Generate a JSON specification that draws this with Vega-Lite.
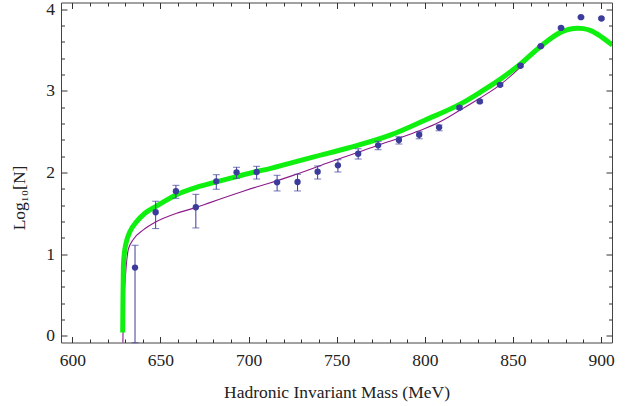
{
  "$schema": "https://vega.github.io/schema/vega-lite/v6.json",
  "width": 551,
  "height": 340,
  "autosize": {"type": "none"},
  "padding": {"left": 61, "top": 2.5, "right": 23, "bottom": 63.5},
  "background": "white",
  "config": {
    "view": {"stroke": "#444444", "strokeWidth": 1},
    "axis": {
      "domain": false,
      "grid": false,
      "tickColor": "#333333",
      "tickWidth": 1,
      "labelFont": "Liberation Serif, DejaVu Serif, Times New Roman, serif",
      "labelFontSize": 17.5,
      "labelColor": "#222222",
      "labelOverlap": false,
      "labelFlush": false,
      "titleFont": "Liberation Serif, DejaVu Serif, Times New Roman, serif",
      "titleFontSize": 17.5,
      "titleFontWeight": "normal",
      "titleColor": "#222222"
    }
  },
  "datasets": {
    "pts": [
      {"m": 635.6, "y": 0.835, "lo": -0.085, "hi": 1.109},
      {"m": 647.3, "y": 1.513, "lo": 1.313, "hi": 1.648},
      {"m": 658.8, "y": 1.770, "lo": 1.684, "hi": 1.843},
      {"m": 670.1, "y": 1.574, "lo": 1.321, "hi": 1.733},
      {"m": 681.7, "y": 1.892, "lo": 1.795, "hi": 1.973},
      {"m": 693.2, "y": 2.002, "lo": 1.929, "hi": 2.064},
      {"m": 704.6, "y": 2.006, "lo": 1.920, "hi": 2.076},
      {"m": 716.2, "y": 1.880, "lo": 1.774, "hi": 1.966},
      {"m": 727.8, "y": 1.884, "lo": 1.774, "hi": 1.978},
      {"m": 739.2, "y": 2.010, "lo": 1.920, "hi": 2.080},
      {"m": 750.7, "y": 2.088, "lo": 2.006, "hi": 2.157},
      {"m": 762.2, "y": 2.230, "lo": 2.165, "hi": 2.291},
      {"m": 773.5, "y": 2.333, "lo": 2.279, "hi": 2.382},
      {"m": 785.3, "y": 2.398, "lo": 2.349, "hi": 2.438},
      {"m": 796.8, "y": 2.462, "lo": 2.413, "hi": 2.499},
      {"m": 808.1, "y": 2.553, "lo": 2.511, "hi": 2.581},
      {"m": 819.7, "y": 2.793, "lo": 2.775, "hi": 2.811},
      {"m": 831.2, "y": 2.871, "lo": 2.855, "hi": 2.887},
      {"m": 842.7, "y": 3.074, "lo": 3.060, "hi": 3.088},
      {"m": 854.3, "y": 3.307, "lo": 3.295, "hi": 3.319},
      {"m": 865.8, "y": 3.547, "lo": 3.537, "hi": 3.557},
      {"m": 877.3, "y": 3.771, "lo": 3.761, "hi": 3.781},
      {"m": 888.6, "y": 3.902, "lo": 3.892, "hi": 3.912},
      {"m": 900.2, "y": 3.886, "lo": 3.876, "hi": 3.896}
    ],
    "green": [
      {"m": 628.6, "v": 0.04}, {"m": 628.75, "v": 0.45}, {"m": 629.0, "v": 0.85},
      {"m": 629.6, "v": 1.02}, {"m": 630.5, "v": 1.134}, {"m": 632.7, "v": 1.276},
      {"m": 636.5, "v": 1.398}, {"m": 641.2, "v": 1.501}, {"m": 647.3, "v": 1.582},
      {"m": 658.8, "v": 1.725}, {"m": 670.5, "v": 1.819}, {"m": 681.7, "v": 1.885},
      {"m": 693.2, "v": 1.950}, {"m": 704.6, "v": 2.012}, {"m": 712.1, "v": 2.048},
      {"m": 725.3, "v": 2.125}, {"m": 737.6, "v": 2.195}, {"m": 756.5, "v": 2.300},
      {"m": 780.7, "v": 2.46}, {"m": 800.0, "v": 2.64}, {"m": 820.3, "v": 2.84},
      {"m": 831.2, "v": 2.98}, {"m": 842.7, "v": 3.14}, {"m": 854.3, "v": 3.33},
      {"m": 865.8, "v": 3.547}, {"m": 877.5, "v": 3.722},
      {"m": 882.0, "v": 3.755}, {"m": 886.9, "v": 3.768}, {"m": 890.0, "v": 3.762},
      {"m": 894.5, "v": 3.734}, {"m": 900.2, "v": 3.661}, {"m": 906.4, "v": 3.56}
    ],
    "purple": [
      {"m": 628.7, "v": -0.1}, {"m": 628.9, "v": 0.2}, {"m": 629.3, "v": 0.45},
      {"m": 629.9, "v": 0.65}, {"m": 630.8, "v": 0.90}, {"m": 631.8, "v": 1.06},
      {"m": 634.6, "v": 1.18}, {"m": 640.3, "v": 1.297}, {"m": 647.0, "v": 1.39},
      {"m": 659.2, "v": 1.501}, {"m": 670.1, "v": 1.57}, {"m": 678.1, "v": 1.631},
      {"m": 697.0, "v": 1.770}, {"m": 706.4, "v": 1.835}, {"m": 712.1, "v": 1.872},
      {"m": 725.3, "v": 1.965}, {"m": 744.3, "v": 2.112}, {"m": 763.1, "v": 2.255},
      {"m": 773.5, "v": 2.335}, {"m": 785.3, "v": 2.42}, {"m": 796.8, "v": 2.51},
      {"m": 808.1, "v": 2.615}, {"m": 819.7, "v": 2.76}, {"m": 831.2, "v": 2.91},
      {"m": 842.5, "v": 3.07}, {"m": 853.9, "v": 3.285}, {"m": 865.2, "v": 3.539}
    ]
  },
  "layer": [
    {
      "data": {"name": "purple"},
      "mark": {"type": "line", "color": "#8b1a8b", "strokeWidth": 1.1, "clip": true, "interpolate": "monotone"},
      "encoding": {
        "x": {
          "field": "m", "type": "quantitative",
          "scale": {"domain": [593.6, 906.2], "nice": false, "zero": false},
          "axis": {
            "orient": "bottom",
            "values": [600,610,620,630,640,650,660,670,680,690,700,710,720,730,740,750,760,770,780,790,800,810,820,830,840,850,860,870,880,890,900],
            "labelExpr": "datum.value % 50 === 0 ? datum.label : ''",
            "tickSize": {"condition": {"test": "datum.value % 50 === 0", "value": -6}, "value": -3.5},
            "labelPadding": 15,
            "title": "Hadronic Invariant Mass (MeV)",
            "titleY": 54.5,
            "titleBaseline": "alphabetic"
          }
        },
        "y": {
          "field": "v", "type": "quantitative",
          "scale": {"domain": [-0.082, 4.082], "nice": false, "zero": false},
          "axis": {
            "orient": "left",
            "values": [0,0.2,0.4,0.6,0.8,1,1.2,1.4,1.6,1.8,2,2.2,2.4,2.6,2.8,3,3.2,3.4,3.6,3.8,4],
            "labelExpr": "abs(datum.value - round(datum.value)) < 0.01 ? format(datum.value, 'd') : ''",
            "tickSize": {"condition": {"test": "abs(datum.value - round(datum.value)) < 0.01", "value": -6}, "value": -3.5},
            "labelPadding": 12.5,
            "title": "Log₁₀[N]",
            "titleX": -42,
            "titleY": 195,
            "titleBaseline": "middle",
            "titleAlign": "center"
          }
        }
      }
    },
    {
      "data": {"name": "green"},
      "mark": {"type": "line", "color": "#10f010", "strokeWidth": 5, "clip": true, "interpolate": "monotone", "strokeCap": "butt"},
      "encoding": {
        "x": {
          "field": "m", "type": "quantitative",
          "axis": {
            "orient": "top",
            "values": [600,610,620,630,640,650,660,670,680,690,700,710,720,730,740,750,760,770,780,790,800,810,820,830,840,850,860,870,880,890,900],
            "labels": false,
            "tickSize": {"condition": {"test": "datum.value % 50 === 0", "value": -6}, "value": -3.5},
            "title": null
          }
        },
        "y": {
          "field": "v", "type": "quantitative",
          "axis": {
            "orient": "right",
            "values": [0,0.2,0.4,0.6,0.8,1,1.2,1.4,1.6,1.8,2,2.2,2.4,2.6,2.8,3,3.2,3.4,3.6,3.8,4],
            "labels": false,
            "tickSize": {"condition": {"test": "abs(datum.value - round(datum.value)) < 0.01", "value": -6}, "value": -3.5},
            "title": null
          }
        }
      }
    },
    {
      "data": {"name": "pts"},
      "mark": {"type": "rule", "color": "#3c3c9a", "strokeWidth": 1},
      "encoding": {
        "x": {"field": "m", "type": "quantitative", "axis": null},
        "y": {"field": "lo", "type": "quantitative", "axis": null},
        "y2": {"field": "hi"}
      }
    },
    {
      "data": {"name": "pts"},
      "mark": {"type": "tick", "orient": "horizontal", "color": "#3c3c9a", "size": 7, "thickness": 1},
      "encoding": {
        "x": {"field": "m", "type": "quantitative", "axis": null},
        "y": {"field": "lo", "type": "quantitative", "axis": null}
      }
    },
    {
      "data": {"name": "pts"},
      "mark": {"type": "tick", "orient": "horizontal", "color": "#3c3c9a", "size": 7, "thickness": 1},
      "encoding": {
        "x": {"field": "m", "type": "quantitative", "axis": null},
        "y": {"field": "hi", "type": "quantitative", "axis": null}
      }
    },
    {
      "data": {"name": "pts"},
      "mark": {"type": "point", "filled": true, "color": "#3c3c9a", "size": 40, "opacity": 1},
      "encoding": {
        "x": {"field": "m", "type": "quantitative", "axis": null},
        "y": {"field": "y", "type": "quantitative", "axis": null}
      }
    }
  ],
  "resolve": {"axis": {"x": "independent", "y": "independent"}}
}
